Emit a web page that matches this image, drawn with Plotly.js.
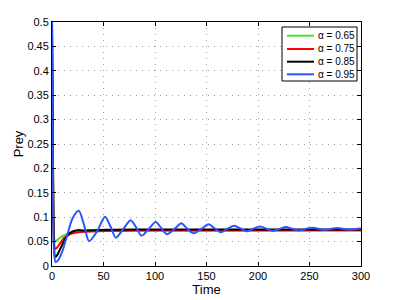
<!DOCTYPE html>
<html>
<head>
<meta charset="utf-8">
<script src="https://cdn.plot.ly/plotly-3.0.1.min.js"></script>
<style>html,body{margin:0;padding:0;background:#fff;}#chart{width:399px;height:300px;}</style>
</head>
<body>
<div id="chart"></div>
<script>
// Series names
const seriesNames = ['α = 0.65', 'α = 0.75', 'α = 0.85', 'α = 0.95'];

// alpha = 0.65 (green)
const tGreen = [0, 1, 2, 3, 5, 8, 12, 16, 20, 30, 50, 100, 200, 300];
const yGreen = [0.5, 0.2, 0.06, 0.05, 0.053, 0.058, 0.063, 0.066, 0.068, 0.070, 0.0715, 0.0725, 0.073, 0.073];

// alpha = 0.75 (red)
const tRed = [0, 1, 2, 3, 5, 8, 12, 16, 20, 25, 35, 50, 80, 150, 300];
const yRed = [0.5, 0.2, 0.05, 0.035, 0.038, 0.047, 0.058, 0.064, 0.067, 0.069, 0.0705, 0.0715, 0.0725, 0.073, 0.0735];

// alpha = 0.85 (black)
const tBlack = [0, 1, 2, 3, 5, 8, 12, 16, 20, 25, 30, 40, 60, 100, 150, 200, 300];
const yBlack = [0.5, 0.2, 0.04, 0.019, 0.022, 0.035, 0.053, 0.065, 0.071, 0.0735, 0.073, 0.0735, 0.0745, 0.075, 0.075, 0.075, 0.075];

// alpha = 0.95 (blue)
const tBlue = [0, 1, 2, 3.5, 6, 10, 15, 20, 26, 31, 36, 44, 51.5, 57, 62, 69, 76.4, 82, 87, 94, 100.7, 106, 111.7, 119, 125.6, 131, 137.5, 145, 152, 158, 164, 170, 177, 183, 189, 195, 202, 208, 214, 221, 227, 233, 239, 246, 253, 259, 265, 271, 277, 283, 289, 295, 300];
const yBlue = [0.5, 0.15, 0.03, 0.008, 0.012, 0.03, 0.065, 0.098, 0.113, 0.085, 0.051, 0.072, 0.101, 0.08, 0.058, 0.075, 0.094, 0.078, 0.062, 0.076, 0.090, 0.078, 0.065, 0.076, 0.0875, 0.077, 0.067, 0.076, 0.0854, 0.077, 0.069, 0.076, 0.0826, 0.077, 0.071, 0.076, 0.081, 0.0765, 0.072, 0.076, 0.080, 0.0765, 0.073, 0.0758, 0.0785, 0.0762, 0.074, 0.076, 0.078, 0.076, 0.0745, 0.076, 0.077];

const xTicks = [0, 50, 100, 150, 200, 250, 300];
const yTicks = [0, 0.05, 0.1, 0.15, 0.2, 0.25, 0.3, 0.35, 0.4, 0.45, 0.5];
const yTickText = ['0', '0.05', '0.1', '0.15', '0.2', '0.25', '0.3', '0.35', '0.4', '0.45', '0.5'];

const colors = ['#4ce02a', '#ff0000', '#000000', '#2a55ff'];
const xs = [tGreen, tRed, tBlack, tBlue];
const ys = [yGreen, yRed, yBlack, yBlue];

const traces = xs.map((x, i) => ({
  x: x, y: ys[i], name: seriesNames[i], type: 'scatter', mode: 'lines',
  line: {color: colors[i], width: 2, shape: 'spline', smoothing: 0.8},
  showlegend: false
}));

const fontFam = 'Liberation Sans, Arial, sans-serif';
const axisCommon = {
  showline: true, linecolor: '#000', linewidth: 1, mirror: 'ticks',
  ticks: 'inside', ticklen: 4, tickcolor: '#000',
  showgrid: true, gridcolor: '#a0a0a0', griddash: '1px,5px', gridwidth: 1,
  zeroline: false, tickfont: {family: fontFam, size: 11, color: '#000'}
};

// Compact MATLAB-style legend box (paper coordinates)
const plotL = 52, plotW = 309, plotT = 22, plotH = 244;
const px = v => (v - plotL) / plotW;
const py = v => 1 - (v - plotT) / plotH;
const legRowsY = [35.7, 49, 61.7, 74.3];
const shapes = [{
  type: 'rect', xref: 'paper', yref: 'paper',
  x0: px(282), x1: px(357), y0: py(81), y1: py(27),
  line: {color: '#000', width: 1}, fillcolor: '#fff', layer: 'above'
}];
const annotations = [];
seriesNames.forEach((name, i) => {
  shapes.push({
    type: 'line', xref: 'paper', yref: 'paper',
    x0: px(287), x1: px(314), y0: py(legRowsY[i]), y1: py(legRowsY[i]),
    line: {color: colors[i], width: 2}, layer: 'above'
  });
  annotations.push({
    xref: 'paper', yref: 'paper', x: px(316), y: py(legRowsY[i]),
    xanchor: 'left', yanchor: 'middle', showarrow: false, text: name,
    font: {family: fontFam, size: 10, color: '#000'}
  });
});

const layout = {
  width: 399, height: 300,
  margin: {l: 52, r: 38, t: 22, b: 34},
  paper_bgcolor: '#fff', plot_bgcolor: '#fff',
  showlegend: false,
  shapes: shapes,
  annotations: annotations,
  xaxis: Object.assign({}, axisCommon, {
    range: [0, 300], tickvals: xTicks,
    title: {text: 'Time', font: {family: fontFam, size: 13, color: '#000'}, standoff: 0}
  }),
  yaxis: Object.assign({}, axisCommon, {
    range: [0, 0.5], tickvals: yTicks, ticktext: yTickText,
    title: {text: 'Prey', font: {family: fontFam, size: 13, color: '#000'}, standoff: 0}
  })
};

Plotly.newPlot('chart', traces, layout, {displayModeBar: false, staticPlot: true});
</script>
</body>
</html>
